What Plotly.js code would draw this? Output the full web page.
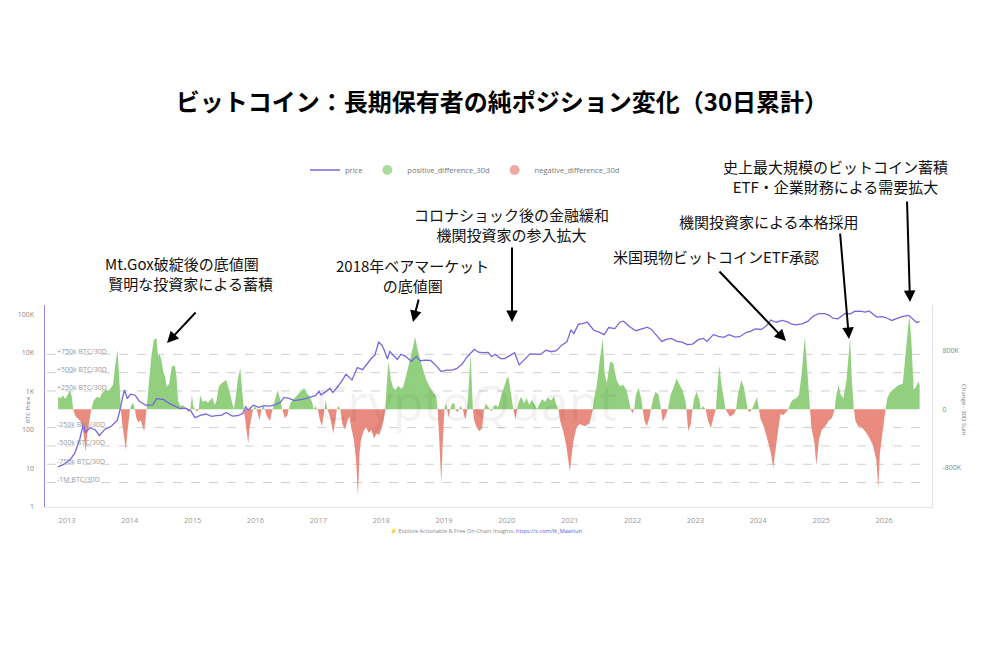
<!DOCTYPE html>
<html><head><meta charset="utf-8">
<script src="https://cdn.plot.ly/plotly-3.0.1.min.js"></script>
<style>html,body{margin:0;padding:0;background:#fff}#chart{width:990px;height:660px}</style>
</head><body><div id="chart"></div>
<script>
// ---- data ----
const priceDates = ['2012-11-10','2012-12-15','2013-01-20','2013-02-15','2013-03-15','2013-04-05','2013-04-18','2013-05-15','2013-06-15','2013-07-08','2013-08-10','2013-09-15','2013-10-20','2013-11-05','2013-11-20','2013-12-01','2013-12-18','2014-01-05','2014-02-01','2014-02-25','2014-04-05','2014-05-15','2014-06-05','2014-07-15','2014-08-15','2014-09-25','2014-10-20','2014-11-20','2014-12-20','2015-01-15','2015-02-15','2015-03-20','2015-04-20','2015-05-20','2015-06-20','2015-07-15','2015-08-20','2015-09-20','2015-10-20','2015-11-05','2015-11-20','2015-12-20','2016-01-20','2016-02-20','2016-03-20','2016-04-20','2016-05-25','2016-06-15','2016-07-15','2016-08-15','2016-09-15','2016-10-15','2016-11-15','2016-12-15','2017-01-05','2017-01-15','2017-02-15','2017-03-10','2017-03-25','2017-04-15','2017-05-15','2017-06-10','2017-07-15','2017-08-15','2017-09-15','2017-10-15','2017-11-05','2017-11-25','2017-12-17','2018-01-05','2018-01-20','2018-02-06','2018-02-20','2018-03-15','2018-04-05','2018-04-25','2018-05-20','2018-06-25','2018-07-25','2018-08-15','2018-09-15','2018-10-15','2018-11-20','2018-12-15','2019-01-15','2019-02-15','2019-03-15','2019-04-15','2019-05-15','2019-06-26','2019-07-20','2019-08-15','2019-09-15','2019-10-05','2019-10-26','2019-11-25','2019-12-20','2020-01-20','2020-02-15','2020-03-13','2020-04-15','2020-05-15','2020-06-15','2020-07-15','2020-08-15','2020-09-15','2020-10-15','2020-11-15','2020-12-15','2021-01-08','2021-01-25','2021-02-20','2021-03-15','2021-04-14','2021-05-20','2021-06-20','2021-07-20','2021-08-15','2021-09-20','2021-10-20','2021-11-10','2021-12-15','2022-01-20','2022-02-15','2022-03-28','2022-04-20','2022-05-15','2022-06-20','2022-07-20','2022-08-15','2022-09-15','2022-10-15','2022-11-15','2022-12-15','2023-01-20','2023-02-15','2023-03-10','2023-04-15','2023-05-15','2023-06-15','2023-07-15','2023-08-20','2023-09-15','2023-10-25','2023-11-20','2023-12-15','2024-01-20','2024-02-20','2024-03-14','2024-04-15','2024-05-20','2024-06-20','2024-07-10','2024-08-05','2024-09-10','2024-10-15','2024-11-12','2024-12-17','2025-01-20','2025-02-15','2025-03-10','2025-04-08','2025-05-20','2025-06-20','2025-07-14','2025-08-14','2025-09-15','2025-10-06','2025-11-20','2025-12-20','2026-01-20','2026-02-15','2026-03-15','2026-04-15','2026-05-25','2026-06-20','2026-07-10','2026-07-27'];
const priceValues = [11,13,17,25,55,140,85,115,100,72,105,125,180,330,700,1100,650,850,800,560,440,450,650,620,500,400,360,370,320,210,240,260,225,235,245,285,230,235,270,400,330,440,390,430,415,440,530,700,660,580,610,640,720,780,1000,820,1000,1200,950,1200,1800,2800,2000,4200,3700,5600,7300,8800,19000,16000,11500,7000,11000,8500,6800,9300,8300,6100,8200,6300,6500,6400,4500,3300,3600,3600,3900,5100,7900,12500,10500,10200,10300,8000,9300,7200,7150,8700,10200,4900,6900,9500,9400,9200,11800,10800,11500,16000,19500,40000,32000,56000,58000,63000,39000,35000,30000,46000,43000,64000,67000,48000,38000,42000,47000,41000,30000,20000,23000,24000,20000,19200,16500,17000,22500,24000,20000,30000,27000,25500,30000,26000,26500,34500,37000,42000,41000,52000,72000,63000,70000,64000,57000,54000,57000,66000,88000,106000,105000,97000,80000,77000,106000,104000,120000,122000,115000,124000,86000,88000,80000,70000,78000,88000,95000,75000,62000,65000];

// long-term holder net position change, 30-day sum, in thousand BTC
const flowDates = ['2012-11-10','2012-11-25','2012-12-08','2012-12-22','2013-01-05','2013-01-18','2013-01-28','2013-02-06','2013-02-18','2013-03-05','2013-03-20','2013-04-05','2013-04-20','2013-04-28','2013-05-08','2013-05-16','2013-05-22','2013-06-05','2013-06-25','2013-07-10','2013-07-20','2013-08-01','2013-08-15','2013-08-30','2013-09-10','2013-09-25','2013-10-08','2013-10-22','2013-11-01','2013-11-10','2013-11-18','2013-11-28','2013-12-09','2013-12-16','2013-12-25','2014-01-02','2014-01-10','2014-01-20','2014-01-30','2014-02-08','2014-02-20','2014-03-05','2014-03-15','2014-03-25','2014-04-02','2014-04-08','2014-04-15','2014-04-25','2014-05-05','2014-05-20','2014-06-05','2014-06-14','2014-06-22','2014-07-04','2014-07-15','2014-07-25','2014-08-03','2014-08-18','2014-09-01','2014-09-20','2014-09-30','2014-10-08','2014-10-20','2014-11-10','2014-11-25','2014-12-08','2014-12-18','2014-12-28','2015-01-05','2015-01-15','2015-01-25','2015-02-05','2015-02-14','2015-03-01','2015-03-15','2015-04-01','2015-04-25','2015-05-10','2015-05-20','2015-06-01','2015-06-15','2015-07-01','2015-07-15','2015-08-01','2015-08-20','2015-08-28','2015-09-05','2015-09-20','2015-10-05','2015-10-15','2015-10-25','2015-11-01','2015-11-12','2015-11-20','2015-11-28','2015-12-08','2015-12-18','2015-12-28','2016-01-08','2016-01-15','2016-01-25','2016-02-05','2016-02-15','2016-02-25','2016-03-05','2016-03-25','2016-04-10','2016-04-20','2016-05-10','2016-05-25','2016-06-05','2016-06-20','2016-07-05','2016-07-12','2016-07-25','2016-08-15','2016-09-05','2016-09-25','2016-10-10','2016-10-25','2016-11-10','2016-11-25','2016-12-05','2016-12-15','2016-12-28','2017-01-10','2017-01-22','2017-02-05','2017-02-12','2017-02-22','2017-03-10','2017-03-28','2017-04-10','2017-04-18','2017-04-28','2017-05-08','2017-05-20','2017-06-05','2017-06-20','2017-07-01','2017-07-10','2017-07-25','2017-08-08','2017-08-19','2017-08-28','2017-09-05','2017-09-20','2017-10-05','2017-10-20','2017-11-05','2017-11-20','2017-12-05','2017-12-20','2018-01-05','2018-01-18','2018-01-25','2018-02-01','2018-02-12','2018-02-25','2018-03-10','2018-03-25','2018-04-10','2018-04-25','2018-05-10','2018-05-25','2018-06-10','2018-06-20','2018-07-05','2018-07-17','2018-07-28','2018-08-15','2018-08-30','2018-09-20','2018-10-05','2018-10-20','2018-11-05','2018-11-17','2018-11-25','2018-12-02','2018-12-10','2018-12-16','2018-12-24','2019-01-03','2019-01-12','2019-01-20','2019-01-28','2019-02-05','2019-02-15','2019-03-01','2019-03-08','2019-03-20','2019-03-30','2019-04-05','2019-04-20','2019-05-05','2019-05-15','2019-05-22','2019-06-05','2019-06-12','2019-06-18','2019-06-25','2019-07-10','2019-07-25','2019-08-10','2019-08-22','2019-09-01','2019-09-15','2019-09-25','2019-10-05','2019-10-10','2019-10-15','2019-10-30','2019-11-10','2019-11-15','2019-12-01','2019-12-15','2020-01-01','2020-01-10','2020-01-20','2020-02-01','2020-02-08','2020-02-20','2020-03-01','2020-03-10','2020-03-25','2020-04-10','2020-04-25','2020-05-10','2020-05-25','2020-06-10','2020-06-25','2020-07-05','2020-07-25','2020-08-10','2020-08-25','2020-09-15','2020-10-01','2020-10-15','2020-10-27','2020-11-05','2020-11-24','2020-12-12','2021-01-01','2021-01-21','2021-02-09','2021-02-27','2021-03-29','2021-04-26','2021-05-15','2021-05-22','2021-06-06','2021-06-24','2021-07-12','2021-07-22','2021-08-04','2021-08-23','2021-09-10','2021-09-30','2021-10-20','2021-11-07','2021-11-27','2021-12-16','2021-12-22','2021-12-30','2022-01-10','2022-01-20','2022-02-05','2022-02-20','2022-03-01','2022-03-10','2022-03-25','2022-04-10','2022-04-18','2022-05-01','2022-05-15','2022-06-01','2022-06-15','2022-06-25','2022-07-10','2022-07-25','2022-08-10','2022-08-28','2022-09-13','2022-10-01','2022-10-20','2022-11-05','2022-11-10','2022-11-20','2022-12-05','2022-12-15','2022-12-25','2023-01-08','2023-01-25','2023-02-01','2023-02-15','2023-03-01','2023-03-15','2023-04-01','2023-04-15','2023-04-30','2023-05-10','2023-05-20','2023-06-01','2023-06-15','2023-06-25','2023-07-20','2023-08-15','2023-08-25','2023-09-05','2023-09-25','2023-10-10','2023-10-25','2023-11-01','2023-11-10','2023-11-25','2023-12-10','2023-12-25','2024-01-05','2024-01-15','2024-02-01','2024-02-20','2024-03-15','2024-03-28','2024-04-10','2024-04-25','2024-05-10','2024-05-25','2024-06-10','2024-06-25','2024-07-05','2024-07-20','2024-08-10','2024-08-25','2024-09-10','2024-09-28','2024-10-10','2024-10-22','2024-10-28','2024-11-05','2024-11-22','2024-12-04','2024-12-20','2025-01-05','2025-01-25','2025-02-15','2025-03-05','2025-03-20','2025-03-30','2025-04-12','2025-04-25','2025-05-10','2025-05-28','2025-06-10','2025-06-18','2025-06-28','2025-07-10','2025-07-20','2025-08-05','2025-08-25','2025-09-20','2025-10-10','2025-10-30','2025-11-18','2025-11-29','2025-12-08','2025-12-25','2026-01-10','2026-01-20','2026-02-05','2026-02-20','2026-03-10','2026-03-28','2026-04-20','2026-05-10','2026-05-28','2026-06-10','2026-06-22','2026-07-05','2026-07-19','2026-07-27'];
const flowValues = [170,150,190,140,200,265,180,0,-90,-130,-160,-300,-580,-350,-200,-80,0,120,170,150,210,240,270,250,290,330,600,810,400,0,-200,-400,-555,-350,-200,0,60,90,0,-120,-180,-150,-230,-300,-150,0,180,490,700,945,970,720,760,670,500,450,310,350,580,600,420,120,50,50,0,-40,0,190,40,0,-30,0,190,100,120,90,160,60,120,300,350,380,400,260,60,0,100,400,560,300,0,-120,-300,-465,-250,-120,0,40,0,-60,-150,0,60,0,-80,-160,0,100,265,120,0,-120,-80,0,100,150,200,240,290,220,180,100,0,40,0,-150,-230,0,130,0,-100,-330,-150,0,50,0,-200,-280,-150,-100,-250,-400,-700,-1190,-600,-420,-300,-250,-320,-280,-400,-330,-350,-250,-120,0,300,650,420,300,265,320,280,310,450,600,720,850,990,850,680,550,400,330,260,220,175,0,-300,-700,-1010,-500,0,80,0,-110,0,70,90,0,-40,0,50,0,-145,0,200,760,300,0,-150,-250,-300,-260,0,80,40,0,-30,0,40,60,30,60,200,300,420,445,300,80,0,-140,0,100,170,80,150,60,130,70,0,60,140,100,160,120,180,60,0,-150,-300,-500,-850,-450,-250,-200,-230,-190,0,150,310,670,970,500,360,650,630,400,310,340,260,60,0,-60,0,200,290,150,0,-150,-230,-100,0,150,240,200,0,-170,-100,0,200,300,420,330,250,100,0,-300,-200,0,150,240,120,0,40,0,-150,-260,-120,0,350,600,350,150,0,-100,-60,0,200,400,300,100,0,-40,0,80,165,0,-140,-220,-380,-600,-805,-530,-300,-60,-80,-40,0,80,130,150,200,500,990,600,200,0,-250,-450,-760,-400,-280,-230,-150,-120,0,200,330,200,150,400,800,970,400,0,-170,-230,-250,-320,-400,-500,-700,-1080,-600,-300,0,150,230,265,300,330,350,800,1290,900,270,300,380,330];

const refLevels = [750, 500, 250, -250, -500, -750, -1000];
const refLabels = ['+750k BTC/30D','+500k BTC/30D','+250k BTC/30D','-250k BTC/30D','-500k BTC/30D','-750k BTC/30D','-1M BTC/30D'];
const years = ['2013','2014','2015','2016','2017','2018','2019','2020','2021','2022','2023','2024','2025','2026'];
const priceTicks = [1, 10, 100, 1000, 10000, 100000];
const priceTickText = ['1','10','100','1K','10K','100K'];
const flowTicks = [-800, 0, 800];
const flowTickText = ['-800K','0','800K'];

const notes = [
  {text:'Mt.Gox破綻後の底値圏<br> 賢明な投資家による蓄積', cx:103, cy:273, anchor:'left'},
  {text:'2018年ベアマーケット<br>の底値圏', cx:412, cy:275, anchor:'center'},
  {text:'コロナショック後の金融緩和<br>機関投資家の参入拡大', cx:511, cy:224, anchor:'center'},
  {text:'米国現物ビットコインETF承認', cx:716, cy:256, anchor:'center'},
  {text:'機関投資家による本格採用', cx:769, cy:221, anchor:'center'},
  {text:'史上最大規模のビットコイン蓄積<br>ETF・企業財務による需要拡大', cx:835, cy:176, anchor:'center'}
];
const arrows = [ // tail x, tail y, head x, head y (pixels)
  [197,311,167,343],[419,298,413,322],[512,246,512,322],[718,270,786,341],[840,232,849,339],[907,200,910,302]
];

// ---- geometry helpers ----
const L=45, R=932, T=305, B=507;
const px = x => (x-L)/(R-L);
const py = y => (B-y)/(B-T);

const GREEN = 'rgba(140,206,120,0.95)';
const RED = 'rgba(232,134,120,0.95)';
const PURPLE = '#7468dc';
const latin = '"Open Sans", "Noto Sans", sans-serif';
const jp = '"Noto Sans CJK JP", sans-serif';

const traces = [
  {x:flowDates, y:flowValues.map(v=>v>0?v:0), type:'scatter', mode:'lines', fill:'tozeroy',
   line:{width:0, color:GREEN}, fillcolor:GREEN, yaxis:'y', showlegend:false, hoverinfo:'skip'},
  {x:flowDates, y:flowValues.map(v=>v<0?v:0), type:'scatter', mode:'lines', fill:'tozeroy',
   line:{width:0, color:RED}, fillcolor:RED, yaxis:'y', showlegend:false, hoverinfo:'skip'},
  {x:[null], y:[null], type:'scatter', mode:'markers', name:'positive_difference_30d', legendrank:2,
   marker:{size:10, color:'rgba(150,210,135,0.8)'}, yaxis:'y'},
  {x:[null], y:[null], type:'scatter', mode:'markers', name:'negative_difference_30d', legendrank:3,
   marker:{size:10, color:'rgba(235,150,140,0.8)'}, yaxis:'y'},
  {x:priceDates, y:priceValues, type:'scatter', mode:'lines', name:'price', legendrank:1,
   line:{color:PURPLE, width:1.3}, yaxis:'y2'}
];

const annotations = [];
notes.forEach(n => annotations.push({xref:'paper', yref:'paper', x:px(n.cx), y:py(n.cy),
  xanchor:n.anchor, yanchor:'middle', showarrow:false, text:n.text, align:n.anchor,
  font:{family:jp, size:15, color:'#111'}}));
arrows.forEach(a => annotations.push({xref:'paper', yref:'paper', x:px(a[2]), y:py(a[3]),
  ax:a[0]-a[2], ay:a[1]-a[3], text:'', showarrow:true, arrowhead:2, arrowsize:1.15, arrowwidth:2,
  arrowcolor:'#000', standoff:0, startstandoff:0}));
refLevels.forEach((lv,i) => annotations.push({xref:'paper', yref:'y', x:px(55), y:lv, yshift:3,
  xanchor:'left', yanchor:'middle', showarrow:false, text:refLabels[i],
  font:{family:latin, size:7, color:'#9a9a9a'}}));
annotations.push({xref:'paper', yref:'paper', x:px(28), y:py(410), xanchor:'center', yanchor:'middle',
  textangle:-90, showarrow:false, text:'BTC Price', font:{family:latin, size:6, color:'#777'}});
annotations.push({xref:'paper', yref:'paper', x:px(964), y:py(410), xanchor:'center', yanchor:'middle',
  textangle:90, showarrow:false, text:'Change - 30D Sum', font:{family:latin, size:6, color:'#777'}});
annotations.push({xref:'paper', yref:'paper', x:px(466), y:py(402), xanchor:'center', yanchor:'middle',
  showarrow:false, text:'CryptoQuant', font:{family:latin, size:50, color:'rgba(0,0,0,0.05)'}});
annotations.push({xref:'paper', yref:'paper', x:px(388), y:py(531), xanchor:'left', yanchor:'middle', showarrow:false,
  text:'<span style="color:#e8b400">⚡</span> Explore Actionable & Free On-Chain Insights: <span style="color:#5b5bd6">https://x.com/Ik_Maartun</span>',
  font:{family:latin, size:5.6, color:'#888'}});

const shapes = refLevels.map(lv => ({type:'line', xref:'paper', yref:'y', x0:px(47), x1:px(927),
  y0:lv, y1:lv, layer:'below', line:{color:'#cfcfcf', width:1, dash:'dash'}}));

const layout = {
  width:990, height:660,
  margin:{l:L, r:990-R, t:T, b:660-B, pad:0},
  paper_bgcolor:'#fff', plot_bgcolor:'#fff',
  font:{family:latin},
  title:{text:'<b>ビットコイン：長期保有者の純ポジション変化（30日累計）</b>', x:0.507, xanchor:'center',
    y:1-103/660, yanchor:'middle', font:{family:jp, size:24, color:'#000'}},
  showlegend:true,
  legend:{orientation:'h', x:px(465), xanchor:'center', y:py(170), yanchor:'middle',
    font:{family:latin, size:7.5, color:'#777'}, bgcolor:'rgba(0,0,0,0)', itemwidth:30},
  xaxis:{type:'date', range:['2012-08-26','2026-10-07'], tickvals:years.map(y=>y+'-01-01'), ticktext:years,
    showgrid:false, zeroline:false, showline:true, linecolor:'#e6e6e6', ticks:'',
    ticklabelstandoff:6, tickfont:{family:latin, size:7.5, color:'#999'}},
  yaxis:{range:[-1333, 1423], side:'right', tickvals:flowTicks, ticktext:flowTickText,
    showgrid:false, zeroline:false, showline:true, linecolor:'#e2e2e2', ticks:'',
    ticklabelstandoff:8, tickfont:{family:latin, size:7, color:'#888'}},
  yaxis2:{type:'log', range:[0, 5.247], overlaying:'y', side:'left', tickvals:priceTicks, ticktext:priceTickText,
    showgrid:false, zeroline:false, showline:true, linecolor:'#9089dc', linewidth:1.5, ticks:'',
    ticklabelstandoff:8, tickfont:{family:latin, size:7, color:'#888'}},
  annotations, shapes
};

Plotly.newPlot('chart', traces, layout, {displayModeBar:false, staticPlot:true});
</script></body></html>
